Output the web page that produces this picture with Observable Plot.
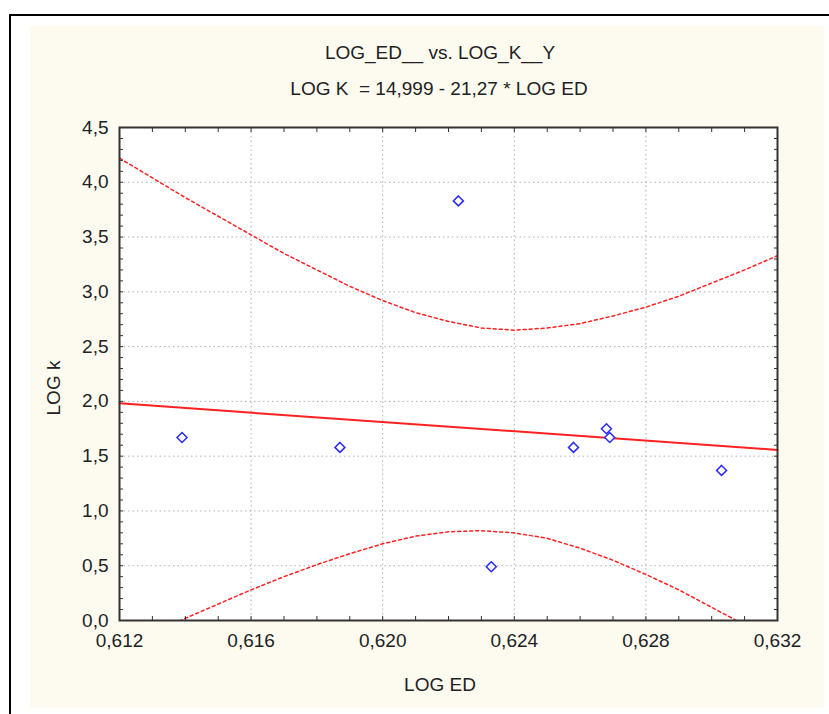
<!DOCTYPE html>
<html><head><meta charset="utf-8">
<script src="https://cdn.jsdelivr.net/npm/d3@7"></script>
<script src="https://cdn.jsdelivr.net/npm/@observablehq/plot@0.6"></script>
<style>
body{margin:0;background:#fff;width:829px;height:714px;overflow:hidden;position:relative;font-family:"Liberation Sans",Arial,sans-serif;color:#222}
#frame{position:absolute;left:9px;top:14px;width:840px;height:720px;border-top:2px solid #000;border-left:2px solid #000}
#bg{position:absolute;left:30px;top:26px;width:794px;height:682px;background:#fdfbf0}
#chart{position:absolute;left:0;top:0}
.t{position:absolute;font-size:19px;white-space:pre;transform:translate(-50%,-50%);line-height:1}
</style></head><body>
<div id="frame"></div><div id="bg"></div>
<div id="chart"></div>
<div class="t" style="left:440px;top:52px">LOG_ED__ vs. LOG_K__Y</div>
<div class="t" style="left:439px;top:88px">LOG K  = 14,999 - 21,27 * LOG ED</div>
<div class="t" style="left:440px;top:684px">LOG ED</div>
<div class="t" style="left:53px;top:388px;transform:translate(-50%,-50%) rotate(-90deg)">LOG k</div>
<script>
const xMajor = [0.612, 0.616, 0.620, 0.624, 0.628, 0.632];
const yMajor = [0, 0.5, 1, 1.5, 2, 2.5, 3, 3.5, 4, 4.5];
const ptX = [0.6139, 0.6187, 0.6258, 0.6268, 0.6269, 0.6303, 0.6223, 0.6233];
const ptY = [1.67, 1.58, 1.58, 1.75, 1.67, 1.37, 3.83, 0.49];
const regX = [0.612, 0.632];
const regY = [1.982, 1.557];
const bandX = [0.612,0.613,0.614,0.615,0.616,0.617,0.618,0.619,0.620,0.621,0.622,0.623,0.624,0.625,0.626,0.627,0.628,0.629,0.630,0.631,0.632];
const upperY = [4.22,4.04,3.86,3.69,3.52,3.35,3.20,3.05,2.92,2.81,2.73,2.67,2.65,2.67,2.71,2.78,2.86,2.96,3.08,3.20,3.33];
const lowerY = [-0.26,-0.12,0.02,0.15,0.28,0.40,0.51,0.61,0.70,0.77,0.81,0.82,0.80,0.75,0.66,0.55,0.42,0.28,0.12,-0.04,-0.21];

const points = ptX.map((x, i) => ({x, y: ptY[i]}));
const reg = regX.map((x, i) => ({x, y: regY[i]}));
const band = bandX.map((x, i) => ({x, up: upperY[i], lo: lowerY[i]}));
const fx = d => d.toFixed(3).replace(".", ",");
const fy = d => d.toFixed(1).replace(".", ",");
const grid = {stroke: "#b0b0b0", strokeOpacity: 1, strokeDasharray: "1.5,3"};
const tickOpts = {tickSize: -4, text: null, stroke: "#333", label: null};

const chart = Plot.plot({
  width: 829, height: 714,
  marginLeft: 119, marginRight: 52, marginTop: 127, marginBottom: 94,
  x: {domain: [0.612, 0.632]},
  y: {domain: [0, 4.5]},
  style: {background: "transparent", fontFamily: "'Liberation Sans', Arial, sans-serif", fontSize: "19px", color: "#222"},
  marks: [
    Plot.frame({fill: "white"}),
    Plot.gridX({ticks: xMajor, ...grid}),
    Plot.gridY({ticks: yMajor, ...grid}),
    Plot.line(band, {x: "x", y: "up", stroke: "#ff2020", strokeWidth: 1.5, strokeDasharray: "3,3", clip: true}),
    Plot.line(band, {x: "x", y: "lo", stroke: "#ff2020", strokeWidth: 1.5, strokeDasharray: "3,3", clip: true}),
    Plot.line(reg, {x: "x", y: "y", stroke: "#ff2020", strokeWidth: 2}),
    Plot.dot(points, {x: "x", y: "y", symbol: "diamond2", r: 4.5, stroke: "#2a2aff", strokeWidth: 1.5, fill: "white"}),
    Plot.frame({stroke: "#333", strokeWidth: 2}),
    Plot.axisX({anchor: "bottom", ticks: 20, ...tickOpts}),
    Plot.axisX({anchor: "top", ticks: 20, ...tickOpts}),
    Plot.axisY({anchor: "left", ticks: 45, ...tickOpts}),
    Plot.axisY({anchor: "right", ticks: 45, ...tickOpts}),
    Plot.axisX({anchor: "bottom", ticks: xMajor, tickSize: 0, tickPadding: 13, tickFormat: fx, fontSize: 19, label: null}),
    Plot.axisY({anchor: "left", ticks: yMajor, tickSize: 0, tickPadding: 11, tickFormat: fy, fontSize: 19, label: null})
  ]
});
document.getElementById("chart").appendChild(chart);
</script>
</body></html>
